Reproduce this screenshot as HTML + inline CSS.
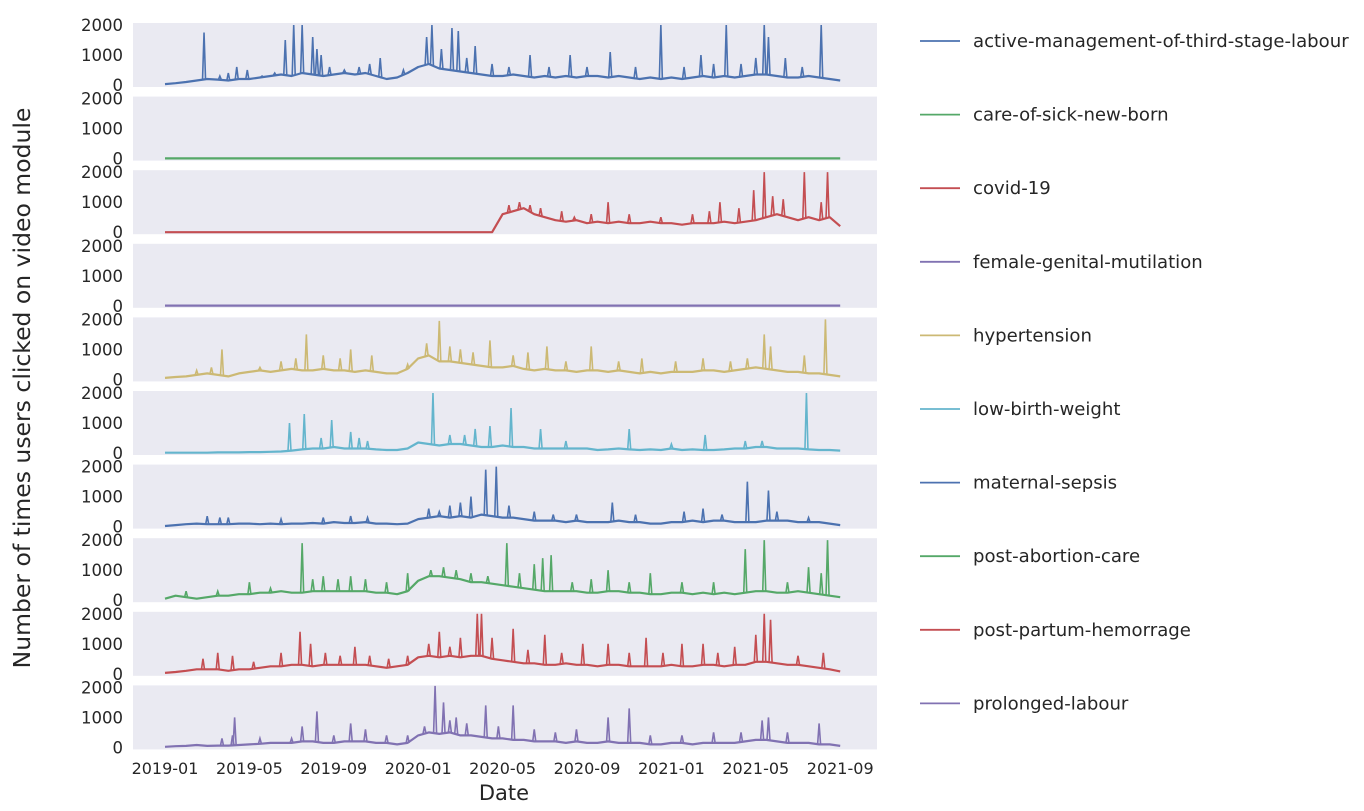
<!DOCTYPE html>
<html><head><meta charset="utf-8"><style>
body{margin:0;background:#fff;}
svg text{font-family:"DejaVu Sans","Liberation Sans",sans-serif;fill:#262626;}
</style></head><body>
<svg id="chart" width="1364" height="806" xmlns="http://www.w3.org/2000/svg"></svg>
<script>
const seriesNames=["active-management-of-third-stage-labour","care-of-sick-new-born","covid-19","female-genital-mutilation","hypertension","low-birth-weight","maternal-sepsis","post-abortion-care","post-partum-hemorrage","prolonged-labour"];
const seriesColors=["#4c72b0","#55a868","#c44e52","#8172b2","#ccb974","#64b5cd","#4c72b0","#55a868","#c44e52","#8172b2"];
const yTicks=[0,1000,2000];
const xTickLabels=["2019-01","2019-05","2019-09","2020-01","2020-05","2020-09","2021-01","2021-05","2021-09"];
const xTickMonths=[0,4,8,12,16,20,24,28,32];
// half-month baseline values (index*0.5 = months since 2019-01)
const baseActive=[30,60,100,150,200,180,150,200,200,250,300,350,300,400,350,300,350,400,350,400,300,200,250,400,600,700,550,500,450,400,350,300,300,350,300,250,300,250,300,250,300,300,250,300,250,200,250,200,250,200,250,300,250,300,250,300,350,350,300,250,250,300,250,200,150];
const baseCare=[5,5,5,5,5,5,5,5,5,5,5,5,5,5,5,5,5,5,5,5,5,5,5,5,5,5,5,5,5,5,5,5,5,5,5,5,5,5,5,5,5,5,5,5,5,5,5,5,5,5,5,5,5,5,5,5,5,5,5,5,5,5,5,5,5];
const baseCovid=[0,0,0,0,0,0,0,0,0,0,0,0,0,0,0,0,0,0,0,0,0,0,0,0,0,0,0,0,0,0,0,0,600,700,800,600,500,400,350,400,300,350,300,350,300,300,350,300,300,250,300,300,300,350,300,350,400,500,600,500,400,500,400,500,200];
const baseFgm=[5,5,5,5,5,5,5,5,5,5,5,5,5,5,5,5,5,5,5,5,5,5,5,5,5,5,5,5,5,5,5,5,5,5,5,5,5,5,5,5,5,5,5,5,5,5,5,5,5,5,5,5,5,5,5,5,5,5,5,5,5,5,5,5,5];
const baseHyper=[50,80,100,150,200,150,100,200,250,300,250,300,350,300,300,350,300,300,250,300,250,200,200,350,700,800,600,600,550,500,450,400,400,450,350,300,350,300,300,250,300,300,250,300,250,200,250,200,250,250,250,300,300,250,300,350,400,350,300,250,250,200,200,150,100];
const baseLbw=[10,10,10,10,10,20,20,20,30,30,40,50,80,120,150,150,200,150,150,150,120,100,100,150,350,300,250,300,300,250,200,200,250,200,200,150,150,150,150,150,150,100,120,150,120,100,120,100,150,100,120,100,100,120,150,150,200,200,150,150,150,120,100,100,80];
const baseSepsis=[20,50,80,100,80,80,80,100,100,80,100,80,100,100,120,100,150,120,120,150,100,100,80,100,250,300,350,300,350,300,400,350,300,300,250,200,200,200,150,200,150,150,150,200,150,150,100,100,150,150,200,150,200,200,150,150,150,200,200,200,150,150,150,100,50];
const baseAbort=[50,150,100,50,100,150,150,200,200,250,250,300,250,250,300,300,300,300,300,300,250,250,200,300,650,800,800,750,700,600,600,550,500,450,400,350,300,300,300,300,250,250,300,300,250,250,200,200,250,250,200,250,200,250,200,250,300,300,250,250,300,250,200,150,100];
const basePph=[30,60,100,150,150,150,100,150,150,200,250,250,300,300,250,300,300,300,300,300,250,200,250,300,550,600,550,600,550,600,600,500,450,400,350,350,300,300,350,300,300,250,300,300,250,250,250,250,300,250,250,300,300,250,300,300,400,400,350,300,300,250,200,150,80];
const baseProl=[20,40,50,80,50,60,60,80,100,120,150,150,150,200,200,150,150,200,200,200,150,150,100,150,400,500,450,500,400,400,350,300,300,250,250,200,200,200,150,200,150,150,200,150,150,150,100,100,150,150,100,150,150,150,150,200,250,250,200,150,150,150,100,100,50];
// spikes: [months since 2019-01, value]
const spikeActive=[[1.85,1750],[2.6,300],[3.0,400],[3.4,600],[3.9,500],[4.6,300],[5.2,400],[5.7,1500],[6.1,2000],[6.5,2000],[7.0,1600],[7.2,1200],[7.4,1000],[7.8,600],[8.5,500],[9.2,600],[9.7,700],[10.2,900],[11.3,500],[12.4,1600],[12.65,2000],[13.1,1200],[13.6,1900],[13.9,1800],[14.3,900],[14.7,1300],[15.5,700],[16.3,600],[17.3,1000],[18.2,600],[19.2,1000],[20.0,600],[21.1,1100],[22.3,600],[23.5,2000],[24.6,600],[25.4,1000],[26.0,700],[26.6,2000],[27.3,700],[28.0,900],[28.4,2000],[28.6,1600],[29.4,900],[30.2,600],[31.1,2000]];
const spikeCare=[];
const spikeCovid=[[16.3,900],[16.8,1000],[17.3,900],[17.8,800],[18.8,700],[19.4,500],[20.2,600],[21.0,1000],[22.0,600],[23.5,500],[25.0,600],[25.8,700],[26.3,1000],[27.2,800],[27.9,1400],[28.4,2000],[28.8,1200],[29.3,1100],[30.3,2000],[31.1,1000],[31.4,2000]];
const spikeFgm=[];
const spikeHyper=[[1.5,300],[2.2,400],[2.7,1000],[4.5,400],[5.5,600],[6.2,700],[6.7,1500],[7.5,800],[8.3,700],[8.8,1000],[9.8,800],[11.5,500],[12.4,1200],[13.0,1950],[13.5,1100],[14.0,1000],[14.6,900],[15.4,1300],[16.5,800],[17.2,900],[18.1,1100],[19.0,600],[20.2,1100],[21.5,600],[22.6,700],[24.2,600],[25.5,700],[26.8,600],[27.6,700],[28.4,1500],[28.7,1100],[30.3,800],[31.3,2000]];
const spikeLbw=[[5.9,1000],[6.6,1300],[7.4,500],[7.9,1100],[8.8,700],[9.2,500],[9.6,400],[12.7,2000],[13.5,600],[14.2,600],[14.7,800],[15.4,900],[16.4,1500],[17.8,800],[19.0,400],[22.0,800],[24.0,300],[25.6,600],[27.5,400],[28.3,400],[30.4,2000]];
const spikeSepsis=[[2.0,350],[2.6,300],[3.0,300],[5.5,250],[7.5,300],[8.8,350],[9.6,300],[12.5,600],[13.0,500],[13.5,700],[14.0,800],[14.5,1000],[15.2,1900],[15.7,2000],[16.3,700],[17.5,500],[18.4,400],[19.5,400],[21.2,800],[22.3,400],[24.6,500],[25.5,600],[26.4,400],[27.6,1500],[28.6,1200],[29.0,500],[30.5,300]];
const spikeAbort=[[1.0,300],[2.5,300],[4.0,600],[5.0,400],[6.5,1900],[7.0,700],[7.5,800],[8.2,700],[8.8,800],[9.5,700],[10.5,600],[11.5,900],[12.6,1000],[13.2,1100],[13.8,1000],[14.5,900],[15.3,800],[16.2,1900],[16.8,900],[17.5,1200],[17.9,1400],[18.3,1500],[19.3,600],[20.2,700],[21.0,1000],[22.0,600],[23.0,900],[24.5,600],[26.0,600],[27.5,1700],[28.4,2000],[29.5,600],[30.5,1100],[31.1,900],[31.4,2000]];
const spikePph=[[1.8,500],[2.5,700],[3.2,600],[4.2,400],[5.5,700],[6.4,1400],[6.9,1000],[7.6,700],[8.3,600],[9.0,900],[9.7,600],[10.6,500],[11.5,600],[12.5,1000],[13.0,1400],[13.5,900],[14.0,1200],[14.8,2000],[15.0,2000],[15.5,1200],[16.5,1500],[17.2,800],[18.0,1300],[18.8,700],[19.8,1000],[21.0,1000],[22.0,700],[22.8,1200],[23.6,700],[24.5,1000],[25.5,1000],[26.2,700],[27.0,900],[28.0,1300],[28.4,2000],[28.7,1800],[30.0,600],[31.2,700]];
const spikeProl=[[2.7,300],[3.2,400],[3.3,1000],[4.5,300],[6.0,300],[6.5,700],[7.2,1200],[8.0,400],[8.8,800],[9.5,600],[10.5,400],[11.5,400],[12.3,700],[12.8,2050],[13.2,1500],[13.5,900],[13.8,1000],[14.3,800],[15.2,1400],[15.8,700],[16.5,1400],[17.5,600],[18.5,500],[19.5,600],[21.0,1000],[22.0,1300],[23.0,400],[24.5,400],[26.0,500],[27.3,500],[28.3,900],[28.6,1000],[29.5,500],[31.0,800]];

const bases=[baseActive,baseCare,baseCovid,baseFgm,baseHyper,baseLbw,baseSepsis,baseAbort,basePph,baseProl];
const spikes=[spikeActive,spikeCare,spikeCovid,spikeFgm,spikeHyper,spikeLbw,spikeSepsis,spikeAbort,spikePph,spikeProl];

const NS="http://www.w3.org/2000/svg";
const svg=document.getElementById('chart');
function mk(tag,attrs,parent){const e=document.createElementNS(NS,tag);for(const k in attrs)e.setAttribute(k,attrs[k]);(parent||svg).appendChild(e);return e;}
const xScale=m=>165+m*21.1;
const panelTop=i=>23+i*73.6;
const yScale=(i,v)=>panelTop(i)+62-v*0.03;
function baseAt(b,m){const p=m*2;const i=Math.floor(p);const f=p-i;const a=b[Math.min(i,b.length-1)],c=b[Math.min(i+1,b.length-1)];return a+(c-a)*f;}

const defs=mk('defs',{});
for(let i=0;i<10;i++){
  const g=mk('g',{});
  
  
  const top=panelTop(i);
  const cp=mk('clipPath',{id:'c'+i},defs);
  mk('rect',{x:133,y:top-1,width:744,height:65},cp);
  const bg=mk('rect',{x:133,y:top,width:744,height:64,fill:'#eaeaf2'},g);
  
  
  yTicks.forEach(t=>{
    const tl=mk('text',{x:123,y:yScale(i,t)+6,'text-anchor':'end','font-size':16.5},g);
    tl.textContent=t;
    
    
  });
  const b=bases[i];
  let d='';
  b.forEach((v,k)=>{d+=(k?'L':'M')+xScale(k*0.5).toFixed(1)+','+yScale(i,v).toFixed(1);});
  const cg=mk('g',{'clip-path':'url(#c'+i+')'},g);
  const line=mk('path',{d:d,fill:'none',stroke:seriesColors[i],'stroke-width':2.2,'stroke-linejoin':'round'},cg);
  
  
  spikes[i].forEach(s=>{
    const x=xScale(s[0]),yb=yScale(i,baseAt(b,s[0]));
    const sp=mk('path',{d:`M${x-1.5},${yb}L${x},${yScale(i,s[1])}L${x+1.5},${yb}`,fill:'none',stroke:seriesColors[i],'stroke-width':1.6},cg);
    
    
  });
  const ly=top+18;
  const lg=mk('g',{},svg);
  
  
  mk('line',{x1:920,x2:960,y1:ly,y2:ly,stroke:seriesColors[i],'stroke-width':1.8},lg);
  const lt=mk('text',{x:973,y:ly+6,'font-size':18.1,fill:'#333'},lg);
  lt.textContent=seriesNames[i];
}
xTickLabels.forEach((l,k)=>{
  const t=mk('text',{x:xScale(xTickMonths[k]),y:774,'text-anchor':'middle','font-size':16});
  t.textContent=l;
  
  
});
const xt=mk('text',{x:504,y:800,'text-anchor':'middle','font-size':21});
xt.textContent='Date';


const yt=mk('text',{x:0,y:0,'text-anchor':'middle','font-size':23.5,transform:'translate(30,388) rotate(-90)'});
yt.textContent='Number of times users clicked on video module';


</script>
</body></html>
